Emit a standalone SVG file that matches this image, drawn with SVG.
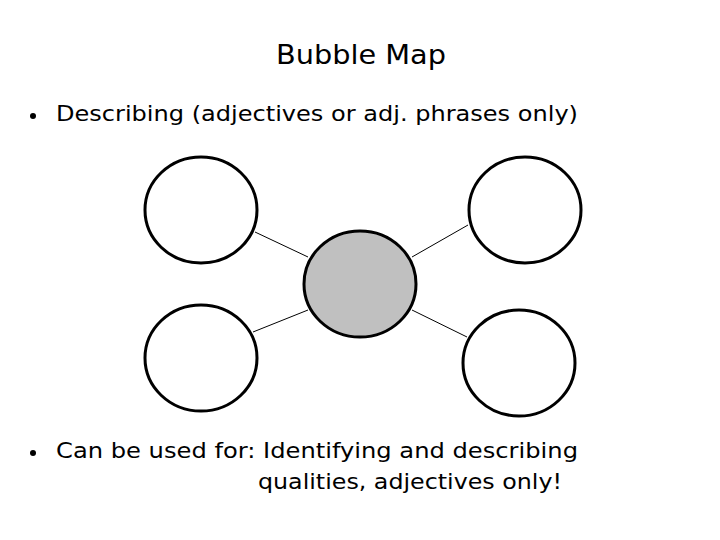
<svg xmlns="http://www.w3.org/2000/svg" width="720" height="540" viewBox="0 0 720 540">
<style>
.t{font-family:"DejaVu Sans","Noto Sans",sans-serif;fill:#000}
.title{font-size:27px}
.body{font-size:22px}
.bub{fill:#fff;stroke:#000;stroke-width:3}
.center{fill:#c0c0c0;stroke:#000;stroke-width:3}
.conn{stroke:#000;stroke-width:1;fill:none}
</style>
<rect width="720" height="540" fill="#fff"/>
<text class="t title" x="276" y="64" textLength="170" lengthAdjust="spacingAndGlyphs">Bubble Map</text>
<circle cx="33" cy="116" r="3" fill="#000"/>
<text class="t body" x="56" y="121" textLength="522" lengthAdjust="spacingAndGlyphs">Describing (adjectives or adj. phrases only)</text>
<g id="connectors">
<line class="conn" x1="255" y1="232" x2="308" y2="257"/>
<line class="conn" x1="468" y1="225" x2="412" y2="257"/>
<line class="conn" x1="253" y1="332" x2="308" y2="310"/>
<line class="conn" x1="412" y1="310" x2="467" y2="337"/>
</g>
<g id="node-center"><ellipse class="center" cx="360" cy="284" rx="56" ry="53"/></g>
<g id="node-tl"><ellipse class="bub" cx="201" cy="210" rx="56" ry="53"/></g>
<g id="node-tr"><ellipse class="bub" cx="525" cy="210" rx="56" ry="53"/></g>
<g id="node-bl"><ellipse class="bub" cx="201" cy="358" rx="56" ry="53"/></g>
<g id="node-br"><ellipse class="bub" cx="519" cy="363" rx="56" ry="53"/></g>
<circle cx="33" cy="453" r="3" fill="#000"/>
<text class="t body" x="56" y="458" textLength="522" lengthAdjust="spacingAndGlyphs">Can be used for: Identifying and describing</text>
<text class="t body" x="258" y="489" textLength="304" lengthAdjust="spacingAndGlyphs">qualities, adjectives only!</text>
</svg>
